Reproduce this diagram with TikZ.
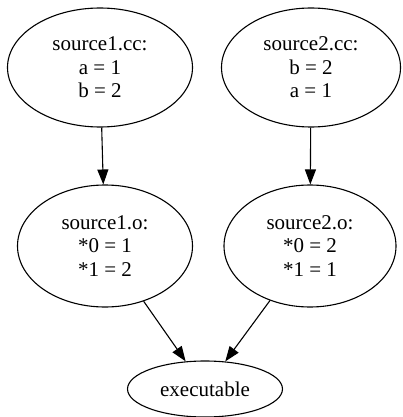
\documentclass[tikz,border=0pt]{standalone}
\usepackage{fontspec}
\setmainfont{Liberation Serif}
\usetikzlibrary{shapes.geometric,arrows.meta}
\tikzset{
  unit/.style={draw,ellipse,line width=1.1pt,inner sep=0pt,align=center,
    font=\fontsize{21}{23.5}\selectfont},
  dep/.style={line width=1.1pt,-{Triangle[length=15pt,width=11pt]}}
}
\begin{document}
\begin{tikzpicture}[x=1pt,y=-1pt]
        \useasboundingbox (0,0) rectangle (403,417);
        %% Nodes
        \node[unit,minimum width=185,minimum height=119] (src1cc) at (100,67.5) {source1.cc:\\a = 1\\b = 2};
        \node[unit,minimum width=179,minimum height=119] (src2cc) at (311,67.5) {source2.cc:\\b = 2\\a = 1};
        \node[unit,minimum width=175,minimum height=122] (src1o) at (105,246) {source1.o:\\*0 = 1\\*1 = 2};
        \node[unit,minimum width=172,minimum height=122] (src2o) at (310,246) {source2.o:\\*0 = 2\\*1 = 1};
        \node[unit,minimum width=155,minimum height=56] (exe) at (205,389) {executable};
        %% Lines
        \draw[dep] (src1cc) -- (src1o);
        \draw[dep] (src2cc) -- (src2o);
        \draw[dep] (src1o) -- (exe);
        \draw[dep] (src2o) -- (exe);
\end{tikzpicture}
\end{document}
